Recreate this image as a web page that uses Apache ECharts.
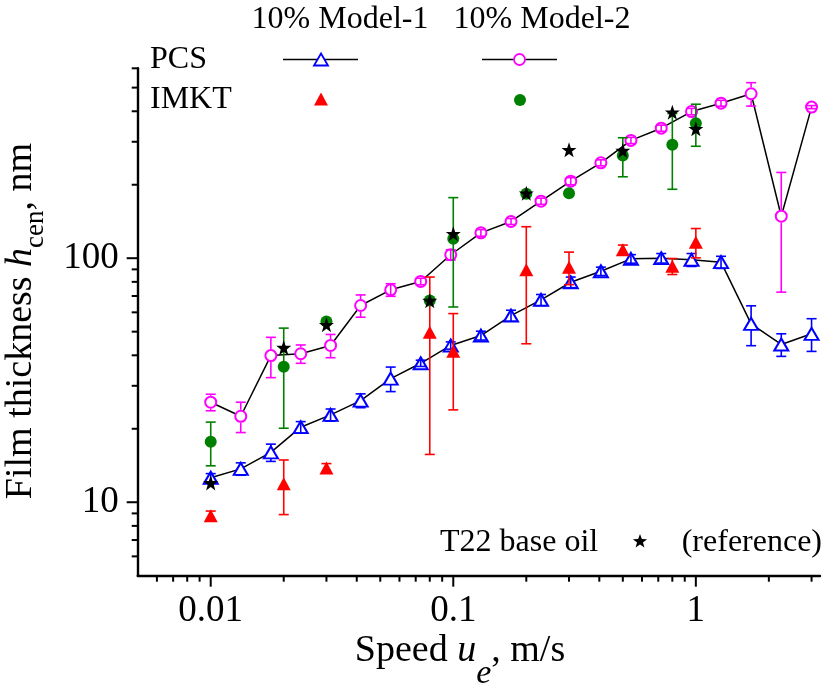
<!DOCTYPE html>
<html><head><meta charset="utf-8">
<script src="https://cdn.jsdelivr.net/npm/echarts@6/dist/echarts.min.js"></script>
<style>html,body{margin:0;padding:0;background:#fff}#c{width:823px;height:691px}</style>
</head><body><div id="c"></div>
<script>
// ---------- data ----------
const speed = [0.01, 0.0133, 0.0177, 0.0235, 0.0312, 0.0415, 0.0552, 0.0734, 0.0976, 0.13, 0.173, 0.23, 0.305, 0.406, 0.54, 0.72, 0.96, 1.27, 1.69, 2.25, 3.0];
const pcsModel1 = [12.6, 13.7, 16.0, 20.3, 22.8, 26.1, 32.1, 37.1, 43.9, 48.2, 58.2, 67.5, 79.7, 88.4, 99.4, 100, 98.5, 96.3, 53.8, 44.3, 49.0];
const pcsModel1Err = [0.5, 0.8, 1.3, 1.1, 1.3, 1.7, 3.7, 1.1, 1.5, 2.0, 3.0, 3.5, 4.0, 3.5, 4.0, 4.5, 6.0, 5.5, 10, 4.7, 7.5];
const pcsModel2 = [25.7, 22.5, 39.9, 40.6, 43.9, 64.0, 74.2, 80.3, 103.3, 127, 141.4, 171.2, 206.9, 246, 303.8, 341, 399, 431.7, 472, 148.6, 416];
const pcsModel2Err = [2, 3.2, 7.5, 3.5, 4.8, 6.7, 4.4, 2.5, 5, 4, 4, 5, 7, 7, 9, 10, 12, 12, 52, 76, 6];
const imktSpeed = [0.01, 0.02, 0.03, 0.08, 0.1, 0.2, 0.3, 0.5, 0.8, 1.0];
const imktModel1 = [8.8, 11.9, 13.8, 49.7, 41.6, 89.6, 91.9, 108.2, 92.7, 116.3];
const imktModel1Err = [0.4, 3, 0.6, 34, 17.7, 45, 14, 5, 7, 16];
const imktModel2 = [17.7, 35.9, 55.0, 67.1, 120.1, 183.7, 184.6, 263.6, 291.6, 357.5];
const imktModel2Err = [3.6, 15.8, 0, 0, 57, 0, 0, 48, 100, 70];
const refSpeed = [0.01, 0.02, 0.03, 0.08, 0.1, 0.2, 0.3, 0.5, 0.8, 1.0];
const refBaseOil = [12.0, 43.0, 53.4, 67, 125.9, 184.6, 278, 276, 396.6, 339];
const xMajor = [0.01, 0.1, 1];
const xMinor = [0.006, 0.007, 0.008, 0.009, 0.02, 0.03, 0.04, 0.05, 0.06, 0.07, 0.08, 0.09, 0.2, 0.3, 0.4, 0.5, 0.6, 0.7, 0.8, 0.9, 2, 3];
const yMajor = [10, 100];
const yMinor = [6, 7, 8, 9, 20, 30, 40, 50, 60, 70, 80, 90, 200, 300, 400, 500, 600];

const FONT = 'Liberation Serif';
const STAR = 'path://M50,2 L61.8,36.2 L97.6,36.2 L68.9,57.6 L79.4,92 L50,71.5 L20.6,92 L31.1,57.6 L2.4,36.2 L38.2,36.2 Z';

function pairs(xs, ys) { return xs.map((x, i) => [x, ys[i]]); }

function errSeries(xs, ys, es, color, gap, z) {
  const data = [];
  xs.forEach((x, i) => { if (es[i] > 0) data.push([x, ys[i], ys[i] - es[i], ys[i] + es[i]]); });
  return {
    type: 'custom', data, z, silent: true,
    encode: { x: 0, y: [2, 3] },
    renderItem(params, api) {
      const x = api.value(0);
      const c = api.coord([x, api.value(1)]);
      const lo = api.coord([x, api.value(2)]);
      const hi = api.coord([x, api.value(3)]);
      const w = 5, st = { stroke: color, lineWidth: 1.6 };
      const ch = [];
      const topOut = c[1] - hi[1] > gap, botOut = lo[1] - c[1] > gap;
      if (topOut && botOut) {
        ch.push({ type: 'line', shape: { x1: c[0], y1: hi[1], x2: c[0], y2: c[1] - gap }, style: st });
        ch.push({ type: 'line', shape: { x1: c[0], y1: c[1] + gap, x2: c[0], y2: lo[1] }, style: st });
      } else {
        ch.push({ type: 'line', shape: { x1: c[0], y1: hi[1], x2: c[0], y2: lo[1] }, style: st });
      }
      ch.push({ type: 'line', shape: { x1: c[0] - w, y1: hi[1], x2: c[0] + w, y2: hi[1] }, style: st });
      ch.push({ type: 'line', shape: { x1: c[0] - w, y1: lo[1], x2: c[0] + w, y2: lo[1] }, style: st });
      return { type: 'group', children: ch };
    }
  };
}

function fmt(v) {
  const l = Math.log10(v);
  return Math.abs(l - Math.round(l)) < 1e-6 ? String(+v.toPrecision(6)) : '';
}

const chart = echarts.init(document.getElementById('c'), null, { renderer: 'canvas' });
const axisCommon = {
  type: 'log', logBase: 10,
  axisLine: { show: true, lineStyle: { color: '#000', width: 2.4 } },
  axisTick: { show: false }, minorTick: { show: false },
  splitLine: { show: false }, minorSplitLine: { show: false },
};
chart.setOption({
  animation: false,
  backgroundColor: '#fff',
  grid: { left: 137.7, right: 2.8, top: 68.3, bottom: 115.3 },
  xAxis: Object.assign({}, axisCommon, {
    min: 0.005, max: 3.25,
    axisLabel: { formatter: fmt, fontSize: 37, fontFamily: FONT, color: '#000', margin: 17, showMinLabel: true, showMaxLabel: true, hideOverlap: false }
  }),
  yAxis: Object.assign({}, axisCommon, {
    min: 5, max: 600,
    axisLabel: { formatter: fmt, fontSize: 37, fontFamily: FONT, color: '#000', margin: 19, hideOverlap: false }
  }),
  series: [
    { type: 'line', data: pairs(speed, pcsModel2), z: 2, symbol: 'emptyCircle', symbolSize: 11,
      lineStyle: { color: '#000', width: 1.5 }, itemStyle: { color: '#ff00ff', borderColor: '#ff00ff', borderWidth: 1.8 } },
    { type: 'line', data: pairs(speed, pcsModel1), z: 2, symbol: 'emptyTriangle', symbolSize: [14, 12],
      lineStyle: { color: '#000', width: 1.5 }, itemStyle: { color: '#0000ff', borderColor: '#0000ff', borderWidth: 1.8 } },
    errSeries(speed, pcsModel2, pcsModel2Err, '#ff00ff', 6.5, 3),
    errSeries(speed, pcsModel1, pcsModel1Err, '#0000ff', 6, 3),
    errSeries(imktSpeed, imktModel1, imktModel1Err, '#ff0000', 0, 4),
    errSeries(imktSpeed, imktModel2, imktModel2Err, '#008000', 0, 4),
    { type: 'scatter', data: pairs(imktSpeed, imktModel2), z: 5, symbol: 'circle', symbolSize: 12,
      itemStyle: { color: '#008000', opacity: 1 } },
    { type: 'scatter', data: pairs(imktSpeed, imktModel1), z: 5, symbol: 'triangle', symbolSize: [14, 13],
      itemStyle: { color: '#ff0000', opacity: 1 } },
    { type: 'scatter', data: pairs(refSpeed, refBaseOil), z: 6, symbol: STAR, symbolSize: 15,
      itemStyle: { color: '#000', opacity: 1 } }
  ]
});

// ---------- ticks (positions from the chart's own scales) ----------
const gfx = [];
const px = (x, y) => chart.convertToPixel({ gridIndex: 0 }, [x, y]);
const axisY = px(1, 5)[1];
const axisX = px(0.005, 10)[0];
const tickSt = { stroke: '#000', lineWidth: 2 };
xMajor.concat(xMinor).forEach(v => {
  const len = xMajor.includes(v) ? 11 : 6;
  const x = px(v, 5)[0];
  gfx.push({ type: 'line', silent: true, shape: { x1: x, y1: axisY, x2: x, y2: axisY + len }, style: tickSt });
});
yMajor.concat(yMinor).forEach(v => {
  const len = yMajor.includes(v) ? 11 : 6;
  const y = px(0.005, v)[1];
  gfx.push({ type: 'line', silent: true, shape: { x1: axisX - len, y1: y, x2: axisX, y2: y }, style: tickSt });
});

// ---------- axis titles ----------
gfx.push({
  type: 'text', silent: true, x: 21, y: 321, rotation: Math.PI / 2,
  style: {
    text: '{n|Film thickness }{i|h}{s|cen}{n|, nm}', align: 'center', verticalAlign: 'middle',
    rich: {
      n: { fontSize: 38, fontFamily: FONT, lineHeight: 56, fill: '#000' },
      i: { fontSize: 38, fontFamily: FONT, fontStyle: 'italic', lineHeight: 56, fill: '#000' },
      s: { fontSize: 27, fontFamily: FONT, lineHeight: 56, verticalAlign: 'bottom', fill: '#000' }
    }
  }
});
gfx.push({
  type: 'text', silent: true, x: 460, y: 651,
  style: {
    text: '{n|Speed }{i|u}{s|e}{n|, m/s}', align: 'center', verticalAlign: 'middle',
    rich: {
      n: { fontSize: 38, fontFamily: FONT, lineHeight: 80, fill: '#000' },
      i: { fontSize: 38, fontFamily: FONT, fontStyle: 'italic', lineHeight: 80, fill: '#000' },
      s: { fontSize: 34, fontFamily: FONT, fontStyle: 'italic', lineHeight: 80, verticalAlign: 'bottom', fill: '#000' }
    }
  }
});

// ---------- legend ----------
const lgText = (t, x, y, align) => ({ type: 'text', silent: true, x, y,
  style: { text: t, fontSize: 32, fontFamily: FONT, fill: '#000', align: align || 'left', verticalAlign: 'middle' } });
gfx.push(lgText('10% Model-1', 340, 20, 'center'));
gfx.push(lgText('10% Model-2', 542, 20, 'center'));
gfx.push(lgText('PCS', 150, 60));
gfx.push(lgText('IMKT', 150, 100));
gfx.push({ type: 'line', silent: true, shape: { x1: 283, y1: 59.5, x2: 358, y2: 59.5 }, style: { stroke: '#000', lineWidth: 1.5 } });
gfx.push({ type: 'polygon', silent: true, shape: { points: [[321, 53.5], [328, 65.5], [314, 65.5]] },
  style: { fill: '#fff', stroke: '#0000ff', lineWidth: 1.8 } });
gfx.push({ type: 'line', silent: true, shape: { x1: 482, y1: 59.5, x2: 557, y2: 59.5 }, style: { stroke: '#000', lineWidth: 1.5 } });
gfx.push({ type: 'circle', silent: true, shape: { cx: 519.5, cy: 59.5, r: 5.5 },
  style: { fill: '#fff', stroke: '#ff00ff', lineWidth: 1.8 } });
gfx.push({ type: 'polygon', silent: true, shape: { points: [[321, 92.5], [328, 105.5], [314, 105.5]] },
  style: { fill: '#ff0000' } });
gfx.push({ type: 'circle', silent: true, shape: { cx: 520, cy: 100, r: 6 }, style: { fill: '#008000' } });

// reference note
gfx.push(lgText('T22 base oil', 440, 543));
gfx.push(lgText('(reference)', 822, 543, 'right'));
(function () {
  const cx = 640, cy = 541.5, R = 7.5, r = 3.1, pts = [];
  for (let k = 0; k < 10; k++) {
    const a = -Math.PI / 2 + k * Math.PI / 5, rr = k % 2 ? r : R;
    pts.push([cx + rr * Math.cos(a), cy + rr * Math.sin(a)]);
  }
  gfx.push({ type: 'polygon', silent: true, shape: { points: pts }, style: { fill: '#000' } });
})();

chart.setOption({ graphic: { elements: gfx } });
</script>
</body></html>
